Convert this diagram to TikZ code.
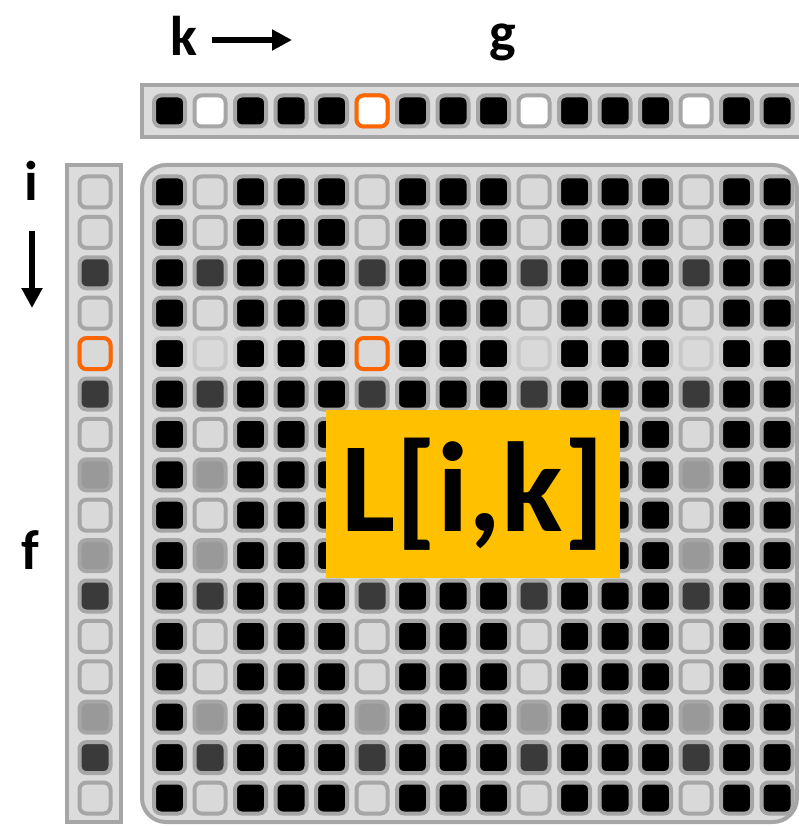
\documentclass[tikz,border=0pt]{standalone}
\usepackage{fontspec}
\setmainfont{Carlito}
\usetikzlibrary{positioning,arrows.meta}
\definecolor{cellborder}{HTML}{A6A6A6}
\definecolor{rowborder}{HTML}{C8C8C8}
\definecolor{barfill}{HTML}{DCDCDC}
\definecolor{shlt}{HTML}{D9D9D9}
\definecolor{shmd}{HTML}{999999}
\definecolor{shdk}{HTML}{3A3A3A}
\definecolor{hl}{HTML}{FF6600}
\definecolor{gold}{HTML}{FFC000}

\begin{document}
\begin{tikzpicture}[x=1pt, y=-1pt,
  cell/.style={rectangle, rounded corners=7pt, draw=cellborder, line width=4pt, minimum size=31pt, inner sep=0pt},
  bar/.style={draw=cellborder, fill=barfill, line width=4pt},
  lbl/.style={font=\fontsize{56}{60}\selectfont\bfseries, inner sep=0pt},
  arr/.style={line width=6pt, -{Triangle[length=20pt,width=20pt]}}
]
  \useasboundingbox (0,0) rectangle (799,826);
  \clip (0,0) rectangle (799,826);

  % frames
  \draw[bar] (142,85) rectangle (830,137);
  \draw[bar] (67,165) rectangle (121,822);
  \draw[bar, rounded corners=24pt] (142,165) rectangle (797,822);

  % vector g
  \foreach \k in {0,...,15} {
    \pgfmathparse{int(mod(\k,4))}
    \ifnum\pgfmathresult=1 \def\c{white}\else\def\c{black}\fi
    \node[cell, fill=\c] (g\k) at (169.5+40.5*\k, 111) {};
  }

  % vector f and matrix L
  \foreach \s [count=\i from 0] in {lt,lt,dk,lt,lt,dk,lt,md,lt,md,dk,lt,lt,md,dk,lt} {
    \node[cell, fill=sh\s] (f\i) at (95, 192+40.4*\i) {};
    \foreach \k in {0,...,15} {
      \pgfmathparse{int(mod(\k,4))}
      \ifnum\pgfmathresult=1 \def\c{sh\s}\else\def\c{black}\fi
      \ifnum\i=4 \def\b{rowborder}\else\def\b{cellborder}\fi
      \node[cell, fill=\c, draw=\b] (m\i-\k) at (169.5+40.5*\k, 192+40.4*\i) {};
    }
  }

  % highlighted entries
  \node[cell, draw=hl, fill=white] at (g5) {};
  \node[cell, draw=hl, fill=shlt] at (f4) {};
  \node[cell, draw=hl, fill=shlt] at (m4-5) {};

  % labels
  \node[lbl] (k) at (184,36) {k};
  \coordinate (kend) at (292,40);
  \draw[arr] ([xshift=14pt]k.east |- kend) -- (kend);
  \node[lbl, anchor=base] (g) at (503,52) {g};
  \node[lbl] (i) at (31,181) {i};
  \coordinate (iend) at (32,308);
  \draw[arr] ([yshift=-30pt]i.south -| iend) -- (iend);
  \node[lbl] (f) at (30,550) {f};

  \node[fill=gold, minimum width=294pt, minimum height=168pt, inner sep=0pt,
        font=\fontsize{128}{128}\selectfont\bfseries] (L) at (473,494) {L[i,k]};
\end{tikzpicture}
\end{document}
